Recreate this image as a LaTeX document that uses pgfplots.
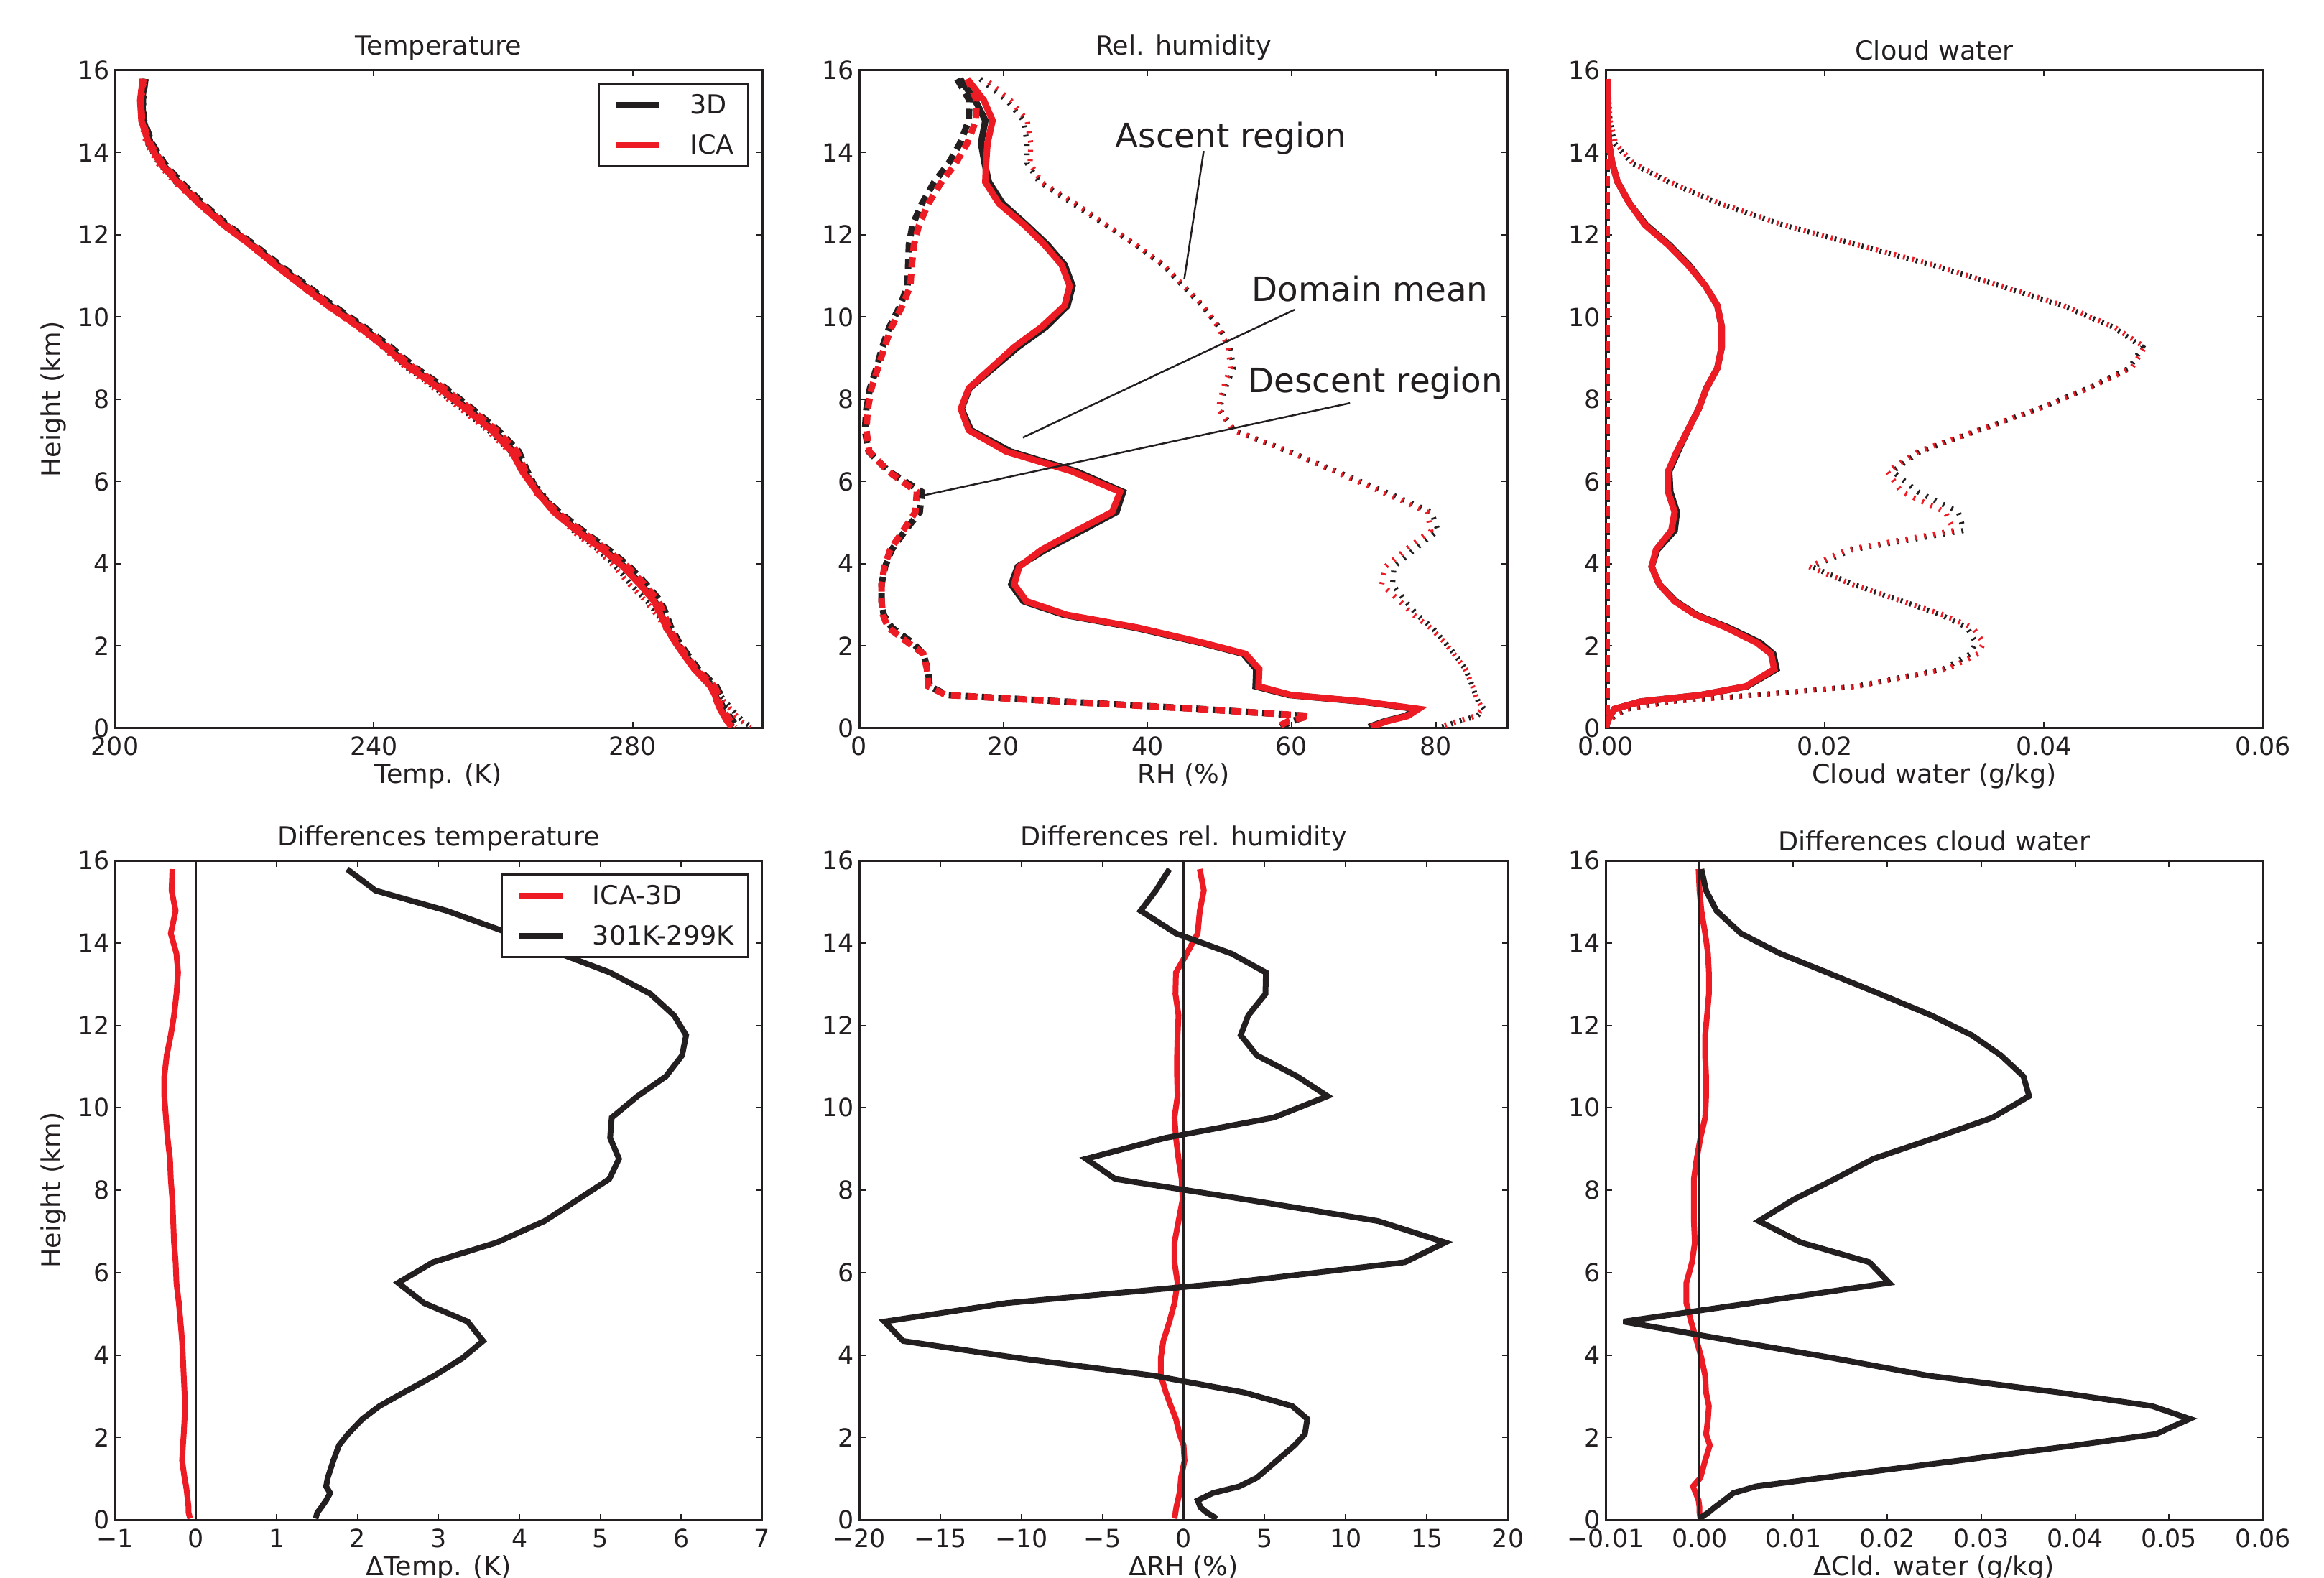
\documentclass[border=0pt]{standalone}
\usepackage{fontspec}
\setmainfont{DejaVu Sans}
\usepackage{pgfplots}
\pgfplotsset{compat=1.18}
\usepackage{pgfplotstable}

\definecolor{cR}{RGB}{237,28,36}
\definecolor{cK}{RGB}{35,31,32}

\newcommand\lbl{\fontsize{10.4pt}{12pt}\selectfont}
\newcommand\tck{\fontsize{9.9pt}{12pt}\selectfont}
\newcommand\ann{\fontsize{13.3pt}{16pt}\selectfont}

\tikzset{
  mK/.style={cK, line width=0.09cm, line join=miter, miter limit=5},
  mR/.style={cR, line width=0.09cm, line join=miter, miter limit=5},
  dK/.style={cK, line width=0.09cm, dash pattern=on 0.14cm off 0.09cm},
  dR/.style={cR, line width=0.09cm, dash pattern=on 0.14cm off 0.09cm, dash phase=0.03cm},
  aK/.style={cK, line width=0.072cm, dash pattern=on 0.027cm off 0.103cm},
  aR/.style={cR, line width=0.072cm, dash pattern=on 0.027cm off 0.103cm, dash phase=0.065cm},
  fK/.style={cK, line width=0.08cm, line join=miter, miter limit=5},
  fR/.style={cR, line width=0.08cm, line join=miter, miter limit=5},
}

\pgfplotsset{
  panel/.style={
    scale only axis,
    anchor=south west,
    ymin=0, ymax=16,
    ytick={0,2,4,6,8,10,12,14,16},
    yticklabels={0,2,4,6,8,10,12,14,16},
    scaled x ticks=false, scaled y ticks=false,
    tick align=inside,
    tick pos=both,
    major tick length=0.085cm,
    tick style={cK, line width=0.02cm},
    axis line style={cK, line width=0.03cm},
    tick label style={font=\tck, text=cK},
    xticklabel style={anchor=base, yshift=-0.38cm, inner sep=0pt},
    yticklabel style={anchor=east, xshift=-0.07cm, inner sep=0pt},
    every axis title/.style={at={(axis description cs:0.5,1)}, anchor=base, yshift=0.21cm, font=\lbl, text=cK, inner sep=0pt},
    every axis x label/.style={at={(axis description cs:0.5,0)}, anchor=base, yshift=-0.77cm, font=\lbl, text=cK, inner sep=0pt},
    every axis y label/.style={at={(axis description cs:-0.0955,0.5)}, rotate=90, anchor=center, font=\lbl, text=cK, inner sep=0pt},
    clip mode=individual,
    legend cell align=left,
    legend image code/.code={\draw[##1] (0cm,0cm) -- (0.6cm,0cm);},
    legend style={draw=cK, line width=0.025cm, fill=white, font=\lbl, text=cK,
      inner xsep=0.2cm, inner ysep=0.17cm, row sep=0.31cm,
      nodes={inner sep=0pt, text height=0.25cm, text depth=0pt},
      /tikz/every odd column/.append style={column sep=0.38cm}},
  },
}

% z = height (km); m = domain mean, d = descent region, a = ascent region; R = ICA, K = 3D
\pgfplotstableread{
z TmR TmK TdR TdK TaR TaK
15.79 204.3 204.6 204.4 204.7 204.6 204.8
15.27 203.9 204.2 204.0 204.3 204.1 204.3
14.78 204.1 204.4 204.2 204.5 204.0 204.2
14.23 205.2 205.5 205.4 205.7 204.8 205.0
13.74 207.0 207.2 207.3 207.6 206.6 206.8
13.28 209.6 209.8 209.9 210.2 209.2 209.4
12.76 213.0 213.2 213.3 213.6 212.8 213.0
12.24 216.8 217.1 217.1 217.4 216.6 216.8
11.76 220.9 221.2 221.2 221.5 220.7 220.9
11.27 224.7 225.1 225.0 225.4 224.5 224.7
10.76 228.9 229.3 229.3 229.7 228.7 228.9
10.28 232.9 233.3 233.3 233.7 232.6 232.8
9.76 237.7 238.1 238.1 238.5 237.4 237.6
9.27 241.7 242.1 242.2 242.6 241.3 241.5
8.76 245.6 245.9 246.2 246.5 245.0 245.2
8.27 250.1 250.4 250.8 251.1 249.3 249.5
7.77 254.2 254.5 254.9 255.2 253.4 253.6
7.25 258.2 258.5 258.9 259.2 257.5 257.7
6.73 261.3 261.6 262.1 262.4 260.9 261.1
6.25 262.9 263.2 263.4 263.7 263.3 263.5
5.75 265.2 265.4 265.0 265.3 265.6 265.8
5.26 267.8 268.0 268.3 268.6 268.1 268.3
4.81 271.3 271.5 271.9 272.2 270.6 270.8
4.34 275.4 275.6 276.0 276.3 274.5 274.7
3.93 278.5 278.7 279.2 279.5 277.2 277.4
3.50 281.1 281.3 281.8 282.1 279.5 279.7
3.09 283.3 283.4 284.0 284.3 282.0 282.2
2.76 284.3 284.4 284.9 285.2 283.7 283.9
2.45 285.2 285.3 285.6 285.9 285.0 285.2
2.08 286.6 286.7 286.9 287.2 286.6 286.8
1.81 287.8 288.0 288.1 288.4 287.9 288.1
1.44 289.5 289.7 289.8 290.1 289.8 290.0
1.02 292.0 292.1 292.6 292.9 292.3 292.5
0.81 292.7 292.8 293.3 293.6 293.3 293.5
0.65 293.0 293.1 293.2 293.5 294.1 294.3
0.47 293.5 293.6 293.8 294.1 295.1 295.3
0.30 294.1 294.2 294.6 294.9 296.0 296.2
0.17 294.6 294.7 295.2 295.5 296.9 297.1
0.03 295.3 295.4 295.8 296.1 298.2 298.4
}\tabT

\pgfplotstableread{
z mR mK dR dK aR aK
15.79 15.0 14.0 15.0 13.6 17.5 16.8
15.27 17.3 16.1 16.3 15.3 21.0 20.5
14.78 18.5 17.5 16.2 15.2 23.3 22.8
14.23 17.8 16.9 15.0 14.0 23.8 23.3
13.74 17.6 17.4 13.4 12.4 23.7 23.3
13.28 17.5 18.0 11.4 10.4 25.3 25.0
12.76 19.4 19.9 9.6 8.7 30.0 29.7
12.24 22.9 23.2 8.3 7.4 34.3 34.1
11.76 25.7 26.1 7.6 6.9 38.4 38.3
11.27 28.1 28.5 7.3 6.8 42.2 42.1
10.76 29.2 29.6 7.1 6.7 45.0 44.9
10.28 28.5 28.9 6.0 5.7 47.7 47.6
9.76 25.3 25.9 4.5 4.2 49.8 49.9
9.27 21.5 22.0 3.5 3.2 51.2 51.5
8.76 18.3 18.6 2.6 2.4 51.5 51.9
8.27 15.2 15.3 1.7 1.5 50.5 50.8
7.77 14.1 14.2 1.2 1.0 49.8 50.0
7.25 15.2 15.5 1.0 0.8 51.9 52.0
6.73 20.4 21.0 1.4 1.3 59.6 59.7
6.25 29.5 30.1 4.0 4.1 65.9 66.2
5.75 36.2 36.6 8.0 8.7 72.5 73.0
5.26 35.1 35.7 7.8 8.4 78.8 79.4
4.81 30.2 30.9 6.1 6.4 79.3 80.3
4.34 25.3 25.8 4.3 4.5 75.8 77.0
3.93 22.2 22.0 3.5 3.6 73.0 74.2
3.50 21.5 21.1 3.1 3.1 72.5 74.0
3.09 23.2 22.8 3.1 3.1 75.0 75.8
2.76 28.8 28.4 3.3 3.4 76.9 77.4
2.45 38.6 38.2 4.0 4.5 79.2 79.5
2.08 47.7 47.4 6.8 7.4 81.3 81.3
1.81 53.6 53.3 8.9 8.9 82.5 82.6
1.44 55.5 55.1 9.4 9.5 84.1 84.1
1.02 55.4 55.0 9.6 9.8 85.1 85.1
0.81 59.9 59.6 12.0 12.2 85.5 85.5
0.65 70.0 69.7 28.0 28.5 85.9 85.9
0.47 77.6 77.3 47.0 47.5 86.5 86.7
0.30 76.1 75.8 62.5 62.2 85.5 85.7
0.17 73.2 72.9 59.5 60.0 83.0 83.2
0.03 71.0 70.7 58.0 58.5 80.5 80.8
}\tabRH

\pgfplotstableread{
z mR mK dR dK aR aK
15.79 0.0002 0.0002 0.0001 0.0001 0.0002 0.0002
15.27 0.0002 0.0002 0.0001 0.0001 0.0003 0.0003
14.78 0.0002 0.0002 0.0001 0.0001 0.0004 0.0004
14.23 0.0003 0.0003 0.0001 0.0001 0.0009 0.0008
13.74 0.0006 0.0006 0.0001 0.0001 0.0025 0.0024
13.28 0.0011 0.0011 0.0001 0.0001 0.0059 0.0058
12.76 0.0022 0.0022 0.0001 0.0001 0.0105 0.0104
12.24 0.0036 0.0037 0.0001 0.0001 0.0163 0.0162
11.76 0.0057 0.0058 0.0001 0.0001 0.0230 0.0229
11.27 0.0075 0.0076 0.0001 0.0001 0.0299 0.0298
10.76 0.0091 0.0091 0.0001 0.0001 0.0361 0.0360
10.28 0.0102 0.0102 0.0001 0.0001 0.0418 0.0417
9.76 0.0106 0.0106 0.0001 0.0001 0.0464 0.0463
9.27 0.0106 0.0106 0.0001 0.0001 0.0492 0.0490
8.76 0.0102 0.0102 0.0001 0.0001 0.0480 0.0478
8.27 0.0092 0.0092 0.0001 0.0001 0.0441 0.0440
7.77 0.0085 0.0085 0.0001 0.0001 0.0395 0.0395
7.25 0.0075 0.0075 0.0001 0.0001 0.0340 0.0341
6.73 0.0065 0.0066 0.0001 0.0001 0.0285 0.0287
6.25 0.0057 0.0058 0.0001 0.0001 0.0257 0.0262
5.75 0.0057 0.0059 0.0001 0.0001 0.0270 0.0285
5.26 0.0063 0.0065 0.0001 0.0001 0.0310 0.0322
4.81 0.0060 0.0063 0.0001 0.0001 0.0318 0.0327
4.34 0.0046 0.0047 0.0001 0.0001 0.0220 0.0225
3.93 0.0042 0.0042 0.0001 0.0001 0.0186 0.0188
3.50 0.0049 0.0049 0.0001 0.0001 0.0225 0.0226
3.09 0.0063 0.0064 0.0001 0.0001 0.0271 0.0271
2.76 0.0082 0.0083 0.0001 0.0001 0.0308 0.0306
2.45 0.0110 0.0112 0.0001 0.0001 0.0335 0.0330
2.08 0.0138 0.0141 0.0001 0.0001 0.0345 0.0338
1.81 0.0151 0.0153 0.0001 0.0001 0.0340 0.0333
1.44 0.0154 0.0156 0.0001 0.0001 0.0312 0.0308
1.02 0.0128 0.0129 0.0001 0.0001 0.0230 0.0228
0.81 0.0087 0.0087 0.0001 0.0001 0.0138 0.0137
0.65 0.0032 0.0032 0.0001 0.0001 0.0059 0.0058
0.47 0.0008 0.0008 0.0001 0.0001 0.0020 0.0020
0.30 0.0004 0.0004 0.0001 0.0001 0.0008 0.0008
0.17 0.0002 0.0002 0.0001 0.0001 0.0003 0.0003
0.03 0.0000 0.0000 0.0001 0.0001 0.0000 0.0000
}\tabCW

% differences: r = ICA-3D, k = 301K-299K
\pgfplotstableread{
z dTr dTk dRHr dRHk dCr dCk
15.79 -0.29 1.87 1.00 -0.87 -0.0001 0.0002
15.27 -0.30 2.22 1.25 -1.71 0.0000 0.0007
14.78 -0.25 3.10 1.00 -2.65 0.0002 0.0018
14.23 -0.31 3.88 0.87 -0.47 0.0006 0.0044
13.74 -0.24 4.50 0.20 2.96 0.0009 0.0086
13.28 -0.22 5.12 -0.47 5.08 0.0010 0.0136
12.76 -0.24 5.62 -0.50 5.05 0.0010 0.0192
12.24 -0.27 5.91 -0.31 3.99 0.0008 0.0247
11.76 -0.31 6.06 -0.37 3.52 0.0006 0.0290
11.27 -0.36 6.01 -0.40 4.52 0.0006 0.0321
10.76 -0.39 5.81 -0.40 7.01 0.0007 0.0345
10.28 -0.39 5.46 -0.37 8.88 0.0007 0.0351
9.76 -0.37 5.14 -0.56 5.55 0.0006 0.0312
9.27 -0.35 5.12 -0.47 -1.09 0.0001 0.0251
8.76 -0.32 5.23 -0.31 -6.01 -0.0003 0.0185
8.27 -0.31 5.11 -0.12 -4.21 -0.0006 0.0144
7.77 -0.29 4.72 -0.06 3.89 -0.0006 0.0100
7.25 -0.28 4.31 -0.31 11.99 -0.0006 0.0063
6.73 -0.27 3.72 -0.56 16.14 -0.0005 0.0108
6.25 -0.25 2.93 -0.56 13.64 -0.0008 0.0181
5.75 -0.24 2.50 -0.37 2.80 -0.0014 0.0202
5.26 -0.21 2.82 -0.56 -10.90 -0.0014 0.0055
4.81 -0.19 3.36 -0.87 -18.44 -0.0009 -0.0081
4.34 -0.17 3.55 -1.25 -17.29 -0.0003 0.0036
3.93 -0.16 3.30 -1.40 -10.28 0.0002 0.0141
3.50 -0.15 2.95 -1.40 -1.87 0.0006 0.0243
3.09 -0.14 2.57 -1.09 3.74 0.0007 0.0383
2.76 -0.13 2.27 -0.78 6.70 0.0010 0.0482
2.45 -0.14 2.06 -0.47 7.63 0.0009 0.0522
2.08 -0.15 1.88 -0.25 7.48 0.0007 0.0486
1.81 -0.16 1.77 0.00 6.85 0.0011 0.0401
1.44 -0.17 1.70 0.06 5.76 0.0006 0.0277
1.02 -0.14 1.63 -0.16 4.52 0.0001 0.0131
0.81 -0.12 1.61 -0.20 3.43 -0.0007 0.0060
0.65 -0.11 1.66 -0.25 1.81 -0.0004 0.0036
0.47 -0.10 1.61 -0.35 0.87 -0.0001 0.0026
0.30 -0.09 1.55 -0.45 1.05 0.0000 0.0016
0.17 -0.09 1.50 -0.50 1.45 0.0000 0.0009
0.03 -0.07 1.48 -0.56 2.05 0.0001 0.0000
}\tabD

\begin{document}
\begin{tikzpicture}
\path[use as bounding box] (0,0) rectangle (32.35,21.96);

% ---------- Temperature ----------
\begin{axis}[panel, at={(1.60cm,11.82cm)}, width=9.01cm, height=9.16cm,
  xmin=200, xmax=300, xtick={200,240,280}, xticklabels={200,240,280},
  title={Temperature}, xlabel={Temp. (K)}, ylabel={Height (km)},
  legend style={at={(axis description cs:0.980,0.981)}, anchor=north east}]
\addplot[mK, forget plot] table[x=TmK, y=z] {\tabT};
\addplot[dK, forget plot] table[x=TdK, y=z] {\tabT};
\addplot[aK, forget plot] table[x=TaK, y=z] {\tabT};
\addplot[mR, forget plot] table[x=TmR, y=z] {\tabT};
\addplot[dR, forget plot] table[x=TdR, y=z] {\tabT};
\addplot[aR, forget plot] table[x=TaR, y=z] {\tabT};
\addlegendimage{cK, line width=0.085cm}
\addlegendentry{3D}
\addlegendimage{cR, line width=0.085cm}
\addlegendentry{ICA}
\end{axis}

% ---------- Rel. humidity ----------
\begin{axis}[panel, at={(11.96cm,11.82cm)}, width=9.03cm, height=9.16cm,
  xmin=0, xmax=90, xtick={0,20,40,60,80}, xticklabels={0,20,40,60,80},
  title={Rel. humidity}, xlabel={RH (\%)}]
\addplot[mK, forget plot] table[x=mK, y=z] {\tabRH};
\addplot[dK, forget plot] table[x=dK, y=z] {\tabRH};
\addplot[aK, forget plot] table[x=aK, y=z] {\tabRH};
\addplot[mR, forget plot] table[x=mR, y=z] {\tabRH};
\addplot[dR, forget plot] table[x=dR, y=z] {\tabRH};
\addplot[aR, forget plot] table[x=aR, y=z] {\tabRH};
\draw[cK, line width=0.025cm] (axis cs:47.8,14.04) -- (axis cs:45.1,10.92);
\draw[cK, line width=0.025cm] (axis cs:60.4,10.18) -- (axis cs:22.7,7.07);
\draw[cK, line width=0.025cm] (axis cs:68.1,7.91) -- (axis cs:8.3,5.64);
\node[anchor=base west, font=\ann, text=cK, inner sep=0pt] at (axis cs:35.5,14.13) {Ascent region};
\node[anchor=base west, font=\ann, text=cK, inner sep=0pt] at (axis cs:54.4,10.39) {Domain mean};
\node[anchor=base west, font=\ann, text=cK, inner sep=0pt] at (axis cs:53.9,8.17) {Descent region};
\end{axis}

% ---------- Cloud water ----------
\begin{axis}[panel, at={(22.35cm,11.82cm)}, width=9.15cm, height=9.16cm,
  xmin=0, xmax=0.06, xtick={0,0.02,0.04,0.06}, xticklabels={0.00,0.02,0.04,0.06},
  title={Cloud water}, xlabel={Cloud water (g/kg)},
  every axis title/.append style={yshift=-0.07cm}]
\addplot[mK, forget plot] table[x=mK, y=z] {\tabCW};
\addplot[dK, forget plot] table[x=dK, y=z] {\tabCW};
\addplot[aK, forget plot] table[x=aK, y=z] {\tabCW};
\addplot[mR, forget plot] table[x=mR, y=z] {\tabCW};
\addplot[dR, forget plot] table[x=dR, y=z] {\tabCW};
\addplot[aR, forget plot] table[x=aR, y=z] {\tabCW};
\end{axis}

% ---------- Differences temperature ----------
\begin{axis}[panel, at={(1.60cm,0.80cm)}, width=9.01cm, height=9.18cm,
  xmin=-1, xmax=7, xtick={-1,0,1,2,3,4,5,6,7}, xticklabels={−1,0,1,2,3,4,5,6,7},
  title={Differences temperature}, xlabel={ΔTemp. (K)}, ylabel={Height (km)},
  legend style={at={(axis description cs:0.980,0.980)}, anchor=north east}]
\addplot[fR] table[x=dTr, y=z] {\tabD};
\addlegendentry{ICA-3D}
\addplot[fK] table[x=dTk, y=z] {\tabD};
\addlegendentry{301K-299K}
\addplot[cK, line width=0.025cm, forget plot] coordinates {(0,0) (0,16)};
\end{axis}

% ---------- Differences rel. humidity ----------
\begin{axis}[panel, at={(11.96cm,0.80cm)}, width=9.03cm, height=9.18cm,
  xmin=-20, xmax=20, xtick={-20,-15,-10,-5,0,5,10,15,20},
  xticklabels={−20,−15,−10,−5,0,5,10,15,20},
  title={Differences rel. humidity}, xlabel={ΔRH (\%)}]
\addplot[fR, forget plot] table[x=dRHr, y=z] {\tabD};
\addplot[fK, forget plot] table[x=dRHk, y=z] {\tabD};
\addplot[cK, line width=0.025cm, forget plot] coordinates {(0,0) (0,16)};
\end{axis}

% ---------- Differences cloud water ----------
\begin{axis}[panel, at={(22.35cm,0.80cm)}, width=9.15cm, height=9.18cm,
  xmin=-0.01, xmax=0.06, xtick={-0.01,0,0.01,0.02,0.03,0.04,0.05,0.06},
  xticklabels={−0.01,0.00,0.01,0.02,0.03,0.04,0.05,0.06},
  title={Differences cloud water}, xlabel={ΔCld. water (g/kg)},
  every axis title/.append style={yshift=-0.07cm}]
\addplot[fR, forget plot] table[x=dCr, y=z] {\tabD};
\addplot[fK, forget plot] table[x=dCk, y=z] {\tabD};
\addplot[cK, line width=0.025cm, forget plot] coordinates {(0,0) (0,16)};
\end{axis}
\end{tikzpicture}
\end{document}
